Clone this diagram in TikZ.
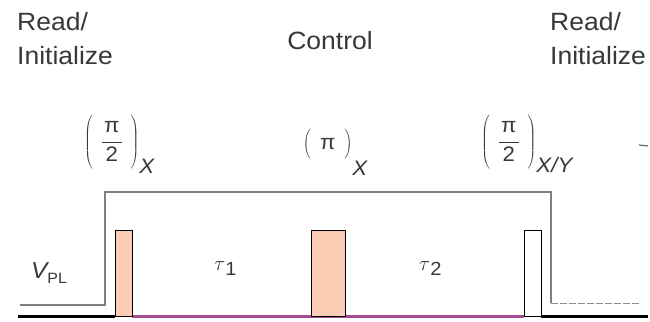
\documentclass[tikz,border=0pt]{standalone}
\usepackage{fontspec}
\setmainfont[FakeStretch=1.06]{Liberation Sans}
\newcommand{\bigparen}[1]{$\left(\rule[-23pt]{0pt}{52pt}#1\right)$}
\newcommand{\smallparen}[1]{$\left(\rule[-10pt]{0pt}{30pt}#1\right)$}
\begin{document}
\begin{tikzpicture}[x=1pt,y=-1pt,
  txt/.style={text=black!78, inner sep=0pt, font=\fontsize{25}{33}\selectfont, align=left},
  lbl/.style={text=black!78, inner sep=0pt, font=\fontsize{21}{25}\selectfont},
  pulse/.style={draw=black, line width=1.4pt, minimum width=17pt, inner sep=0pt, anchor=south west},
  level/.style={draw=black!50, line width=1.1pt},
  base/.style={line width=3pt}]
\useasboundingbox (0,0) rectangle (650,321);
% texts
\node[txt, anchor=base west] (ri1) at (17,64) {Read/\\Initialize};
\node[txt, anchor=base] (ctl) at (330,49) {Control};
\node[txt, anchor=base west] (ri2) at (550,64) {Read/\\Initialize};
% rotation labels
\node[lbl, anchor=base west] (p1) at (84,147) {\bigparen{\hspace{8pt}\displaystyle\frac{\hspace{2pt}\mbox{π}\hspace{2pt}}{\mbox{2}}\hspace{8pt}}\raisebox{-26pt}{\itshape X}};
\node[lbl, anchor=base west] (p2) at (303,149) {\smallparen{\hspace{9pt}\mbox{π}\hspace{9pt}}\raisebox{-26pt}{\itshape X}};
\node[lbl, anchor=base west] (p3) at (481,147) {\bigparen{\hspace{8pt}\displaystyle\frac{\hspace{2pt}\mbox{π}\hspace{2pt}}{\mbox{2}}\hspace{8pt}}\raisebox{-25pt}{\itshape X/Y}};
% tau and VPL
\node[lbl, anchor=base west] (t1) at (214,270) {$\tau$\raisebox{-5pt}{\fontsize{19}{20}\selectfont 1}};
\node[lbl, anchor=base west] (t2) at (419,270) {$\tau$\raisebox{-5pt}{\fontsize{19}{20}\selectfont 2}};
\node[lbl, anchor=base west] (vpl) at (31,278) {\fontsize{23}{25}\selectfont\itshape V\raisebox{-5pt}{\upshape\fontsize{15}{16}\selectfont PL}};
% gate voltage level
\coordinate (g0) at (20,305);
\coordinate (g1) at (105,305);
\coordinate (g2) at (105,192);
\coordinate (g3) at (551,192);
\coordinate (g4) at (551,303);
\coordinate (g5) at (640,303);
\draw[level] (g0) -- (g1) -- (g2) -- (g3) -- (g4);
\draw[black!45, line width=1pt, dash pattern=on 7pt off 2pt] (g4) -- (g5);
% baseline
\coordinate (b0) at (18,316.5);
\coordinate (b1) at (115,316.5);
\coordinate (b2) at (541,316.5);
\coordinate (b3) at (648,316.5);
\coordinate (b4) at (132,316.5);
\coordinate (b5) at (524,316.5);
\draw[base, black] (b0) -- (b1);
\draw[base, black] (b2) -- (b3);
\draw[base, color={rgb,255:red,165;green,75;blue,145}] (b4) -- (b5);
% pulses
\node[pulse, fill={rgb,255:red,250;green,205;blue,180}, minimum height=86pt] (q1) at (115,317) {};
\node[pulse, fill={rgb,255:red,250;green,205;blue,180}, minimum width=34pt, minimum height=86pt] (q2) at (311,317) {};
\node[pulse, fill=white, minimum height=86pt] (q3) at (524,317) {};
% small stray mark at right edge
\coordinate (m0) at (639,145);
\coordinate (m1) at (648,146);
\draw[black!60, line width=1.2pt] (m0) -- (m1);
\end{tikzpicture}
\end{document}
